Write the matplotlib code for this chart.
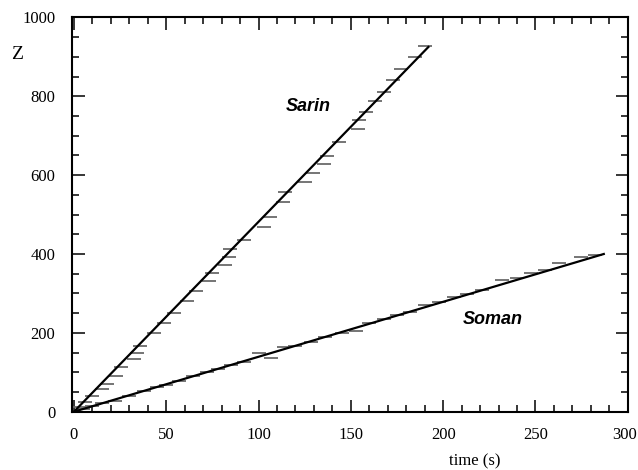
# Z versus time for Sarin and Soman, with straight-line fits

import matplotlib.pyplot as plt
import matplotlib.transforms as mtransforms
from matplotlib.ticker import MultipleLocator

# measured points (time in s, Z)
sarinT = [3, 6, 10, 15, 18, 23, 25.7, 32.5, 34.3, 36, 43.3, 49, 54, 61.3, 66,
          73, 75, 82, 84, 84.7, 92, 102.8, 106, 113, 114.5, 125, 129.4, 135.6,
          137, 143.7, 153.8, 154.5, 158, 163, 168, 173, 177, 184.8, 190]
sarinZ = [12, 24, 40, 57, 70, 91, 113, 133, 148, 167, 200, 226, 250, 281, 305,
          331, 353, 373, 392, 412, 435, 469, 495, 531, 556, 583, 606, 628,
          649, 685, 716, 739, 761, 788, 810, 840, 869, 900, 928]

somanT = [5, 10, 15, 22.5, 30, 38, 45, 50, 57, 64.5, 72, 78, 85, 92, 100, 107,
          113.6, 120, 128.5, 136, 145, 153, 160, 168, 175, 182, 190, 198,
          205.6, 213, 221, 232, 240, 247.5, 255, 263, 274.6, 282]
somanZ = [7, 14, 22, 28, 40, 52, 62, 68, 78, 91, 100, 108, 118.5, 127, 148, 137,
          163, 167, 178, 189, 200, 205, 226, 235, 245, 254, 271, 278,
          292, 298, 309, 334, 338, 351, 360, 376, 393, 397]

# fitted lines
sarinFitT = [0, 192]
sarinFitZ = [0, 925]
somanFitT = [0, 287]
somanFitZ = [0, 400]

xTicks = [0, 50, 100, 150, 200, 250, 300]
yTicks = [0, 200, 400, 600, 800, 1000]

serif = 'Liberation Serif'

fig = plt.figure(figsize=(6.38, 4.70), dpi=100)
ax = fig.add_axes([0.113, 0.124, 0.871, 0.839])

ax.plot(sarinT, sarinZ, '_', color='#6a6a6a', ms=9.5, mew=1.3)
ax.plot(somanT, somanZ, '_', color='#6a6a6a', ms=9.5, mew=1.3)
ax.plot(sarinFitT, sarinFitZ, 'k-', lw=1.6)
ax.plot(somanFitT, somanFitZ, 'k-', lw=1.6)

ax.text(127, 773, 'Sarin', fontsize=13, fontweight='bold', fontstyle='italic',
        family='Liberation Sans', ha='center', va='center')
ax.text(227, 233, 'Soman', fontsize=13, fontweight='bold', fontstyle='italic',
        family='Liberation Sans', ha='center', va='center')

ax.set_xlim(-1, 300)
ax.set_ylim(0, 1000)
ax.set_xticks(xTicks)
ax.set_yticks(yTicks)
ax.xaxis.set_minor_locator(MultipleLocator(10))
ax.yaxis.set_minor_locator(MultipleLocator(50))

ax.tick_params(which='both', direction='in', top=True, right=True, width=1.1)
ax.tick_params(which='major', length=9)
ax.tick_params(which='minor', length=5)
ax.tick_params(axis='y', pad=12)
ax.tick_params(axis='x', pad=11)
for lbl in ax.get_xticklabels() + ax.get_yticklabels():
    lbl.set_family(serif)
    lbl.set_fontsize(12)

# pull the last x label in a little so it stays on the canvas
last = ax.xaxis.get_major_ticks()[-1].label1
last.set_transform(last.get_transform() +
                   mtransforms.ScaledTranslation(-2.5 / 72, 0, fig.dpi_scale_trans))

for sp in ax.spines.values():
    sp.set_linewidth(1.5)

ax.set_xlabel('time (s)', family=serif, fontsize=12)
ax.xaxis.set_label_coords(0.725, -0.105)
fig.text(0.027, 0.883, 'Z', family=serif, fontsize=14, ha='center', va='center')

fig.savefig('out.png')
